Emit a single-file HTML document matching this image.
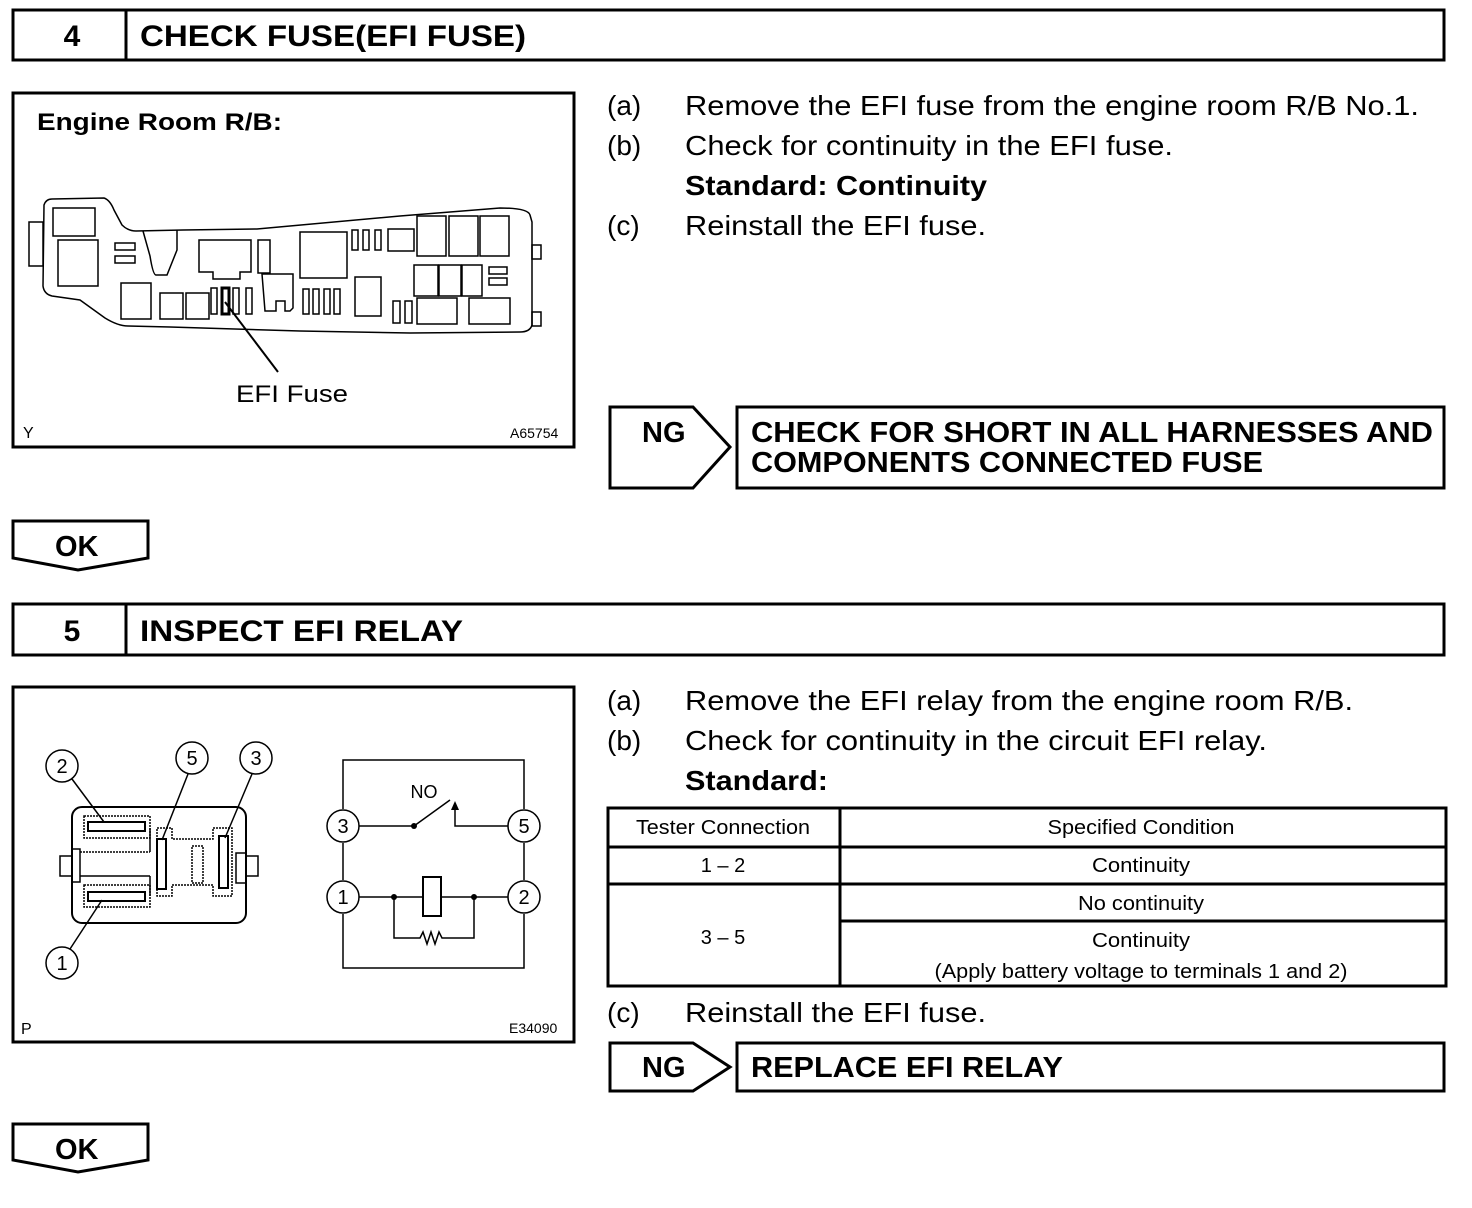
<!DOCTYPE html>
<html><head><meta charset="utf-8"><style>
html,body{margin:0;padding:0;background:#fff}
svg{display:block}
text{font-family:"Liberation Sans",Arial,sans-serif;fill:#000}
.b{font-weight:bold}
</style></head><body>
<svg width="1472" height="1208" viewBox="0 0 1472 1208" xmlns="http://www.w3.org/2000/svg">
<g fill="none" stroke="#000" stroke-width="3">
<rect x="13" y="10" width="1431" height="50"/>
<line x1="126" y1="10" x2="126" y2="60"/>
<rect x="13" y="93" width="561" height="354"/>
<path d="M610 407 H693 L730 447 L693 488 H610 Z"/>
<rect x="737" y="407" width="707" height="81"/>
<path d="M13 521 H148 V558 L78 570 L13 558 Z"/>
<rect x="13" y="604" width="1431" height="51"/>
<line x1="126" y1="604" x2="126" y2="655"/>
<rect x="13" y="687" width="561" height="355"/>
<rect x="608" y="808" width="838" height="178"/>
<line x1="840" y1="808" x2="840" y2="986"/>
<line x1="608" y1="847" x2="1446" y2="847"/>
<line x1="608" y1="884" x2="1446" y2="884"/>
<line x1="840" y1="921" x2="1446" y2="921"/>
<path d="M610 1043 H693 L730 1067 L693 1091 H610 Z"/>
<rect x="737" y="1043" width="707" height="48"/>
<path d="M13 1124 H148 V1160 L78 1172 L13 1160 Z"/>
</g>

<g fill="none" stroke="#000" stroke-width="1.5">
<path d="M44 205 Q46 199 52 199 L104 198 Q110 200 114 210 L122 225 Q128 231 136 231 L183 230 L257 229 L400 216 L500 208 Q528 208 530 215 L532 222 L532 325 Q530 332 520 332 L410 333 L300 331 L170 327 L128 326 Q118 326 105 318 L80 300 L52 296 Q44 294 43 286 Z"/>
<rect x="29" y="222" width="14" height="44"/>
<rect x="532" y="245" width="9" height="14"/>
<rect x="532" y="312" width="9" height="14"/>
<rect x="53" y="208" width="42" height="28"/>
<rect x="58" y="240" width="40" height="46"/>
<rect x="115" y="243" width="20" height="7"/>
<rect x="115" y="256" width="20" height="7"/>
<path d="M143 231 L150 256 Q153 275 156 275 L167 275 L177 250 L177 230"/>
<rect x="121" y="283" width="30" height="36"/>
<rect x="160" y="293" width="23" height="26"/>
<rect x="186" y="293" width="23" height="26"/>
<path d="M199 240 H251 V272 H240 V279 H213 V272 H199 Z"/>
<rect x="258" y="240" width="12" height="33"/>
<rect x="211" y="288" width="6" height="26"/>
<rect x="222" y="288" width="7" height="26" stroke-width="3"/>
<rect x="233" y="288" width="6" height="26"/>
<rect x="246" y="288" width="6" height="26"/>
<path d="M262 274 H293 V308 L290 311 H285 V301 H276 V311 H265 Z"/>
<rect x="300" y="232" width="47" height="46"/>
<rect x="303" y="289" width="6" height="25"/>
<rect x="313" y="289" width="6" height="25"/>
<rect x="324" y="289" width="6" height="25"/>
<rect x="334" y="289" width="6" height="25"/>
<rect x="355" y="277" width="26" height="39"/>
<rect x="352" y="230" width="6" height="20"/>
<rect x="363" y="230" width="6" height="20"/>
<rect x="375" y="230" width="6" height="20"/>
<rect x="388" y="229" width="26" height="22"/>
<rect x="417" y="216" width="29" height="40"/>
<rect x="449" y="216" width="29" height="40"/>
<rect x="480" y="216" width="29" height="40"/>
<rect x="414" y="265" width="24" height="31"/>
<rect x="439" y="265" width="22" height="31"/>
<rect x="462" y="265" width="20" height="31"/>
<rect x="489" y="267" width="18" height="7"/>
<rect x="489" y="278" width="18" height="7"/>
<rect x="393" y="301" width="7" height="22"/>
<rect x="405" y="301" width="7" height="22"/>
<rect x="417" y="298" width="40" height="26"/>
<rect x="469" y="298" width="41" height="26"/>
<line x1="225" y1="302" x2="278" y2="372" stroke-width="2"/>
</g>

<g fill="none" stroke="#000" stroke-width="1.5">
<rect x="72" y="807" width="174" height="116" rx="10" stroke-width="2"/>
<rect x="84" y="816" width="66" height="22" stroke-dasharray="2 1"/>
<rect x="88" y="822" width="57" height="9" stroke-width="2"/>
<rect x="84" y="885" width="66" height="22" stroke-dasharray="2 1"/>
<rect x="88" y="892" width="57" height="9" stroke-width="2"/>
<path d="M150 828 V852 M150 876 V896" />
<path d="M157 828 H172 V839 H213 V828 H232 V896 H213 V885 H172 V896 H157 Z" stroke-dasharray="2 1"/>
<rect x="157" y="839" width="9" height="50" stroke-width="2"/>
<rect x="219" y="836" width="9" height="52" stroke-width="2"/>
<rect x="192" y="846" width="11" height="37" stroke-dasharray="2 1"/>
<rect x="60" y="856" width="12" height="20"/>
<rect x="72" y="849" width="8" height="33"/>
<rect x="246" y="856" width="12" height="20"/>
<rect x="236" y="853" width="10" height="30"/>
<line x1="80" y1="852" x2="150" y2="852" stroke-dasharray="2 1"/>
<line x1="80" y1="876" x2="150" y2="876"/>
<circle cx="62" cy="766" r="16"/>
<circle cx="192" cy="758" r="16"/>
<circle cx="256" cy="758" r="16"/>
<circle cx="62" cy="963" r="16"/>
<line x1="72" y1="779" x2="104" y2="822"/>
<line x1="188" y1="774" x2="162" y2="840"/>
<line x1="252" y1="774" x2="225" y2="838"/>
<line x1="70" y1="949" x2="102" y2="900"/>
</g>
<g font-size="20" text-anchor="middle">
<text x="62" y="773">2</text><text x="192" y="765">5</text><text x="256" y="765">3</text><text x="62" y="970">1</text>
</g>

<g fill="none" stroke="#000" stroke-width="1.5">
<path d="M343 809 V760 H524 V809 M343 843 V880 M343 914 V968 H524 V914 M524 843 V880"/>
<circle cx="343" cy="826" r="16"/><circle cx="524" cy="826" r="16"/>
<circle cx="343" cy="897" r="16"/><circle cx="524" cy="897" r="16"/>
<path d="M359 826 H414 L450 800 M455 808 V826 H508"/>
</g>
<path d="M451 810 L455 801 L459 810 Z" fill="#000"/>
<g fill="none" stroke="#000" stroke-width="1.5">
<path d="M359 897 H423 M441 897 H508"/>
<rect x="423" y="877" width="18" height="39" stroke-width="2"/>
<path d="M394 897 V938 H420 L423 932 L427 944 L431 932 L435 944 L439 932 L442 938 H474 V897"/>
</g>
<circle cx="414" cy="826" r="3"/><circle cx="394" cy="897" r="3"/><circle cx="474" cy="897" r="3"/>
<g font-size="20" text-anchor="middle">
<text x="343" y="833">3</text><text x="524" y="833">5</text><text x="343" y="904">1</text><text x="524" y="904">2</text>
<text x="424" y="798" font-size="18">NO</text>
</g>

<text x="72" y="46" class="b" font-size="30" text-anchor="middle">4</text>
<text x="140" y="46" class="b" font-size="30" textLength="386" lengthAdjust="spacingAndGlyphs">CHECK FUSE(EFI FUSE)</text>
<text x="72" y="641" class="b" font-size="30" text-anchor="middle">5</text>
<text x="140" y="641" class="b" font-size="30" textLength="323" lengthAdjust="spacingAndGlyphs">INSPECT EFI RELAY</text>

<text x="37" y="130" class="b" font-size="24" textLength="245" lengthAdjust="spacingAndGlyphs">Engine Room R/B:</text>
<text x="236" y="402" font-size="24" textLength="112" lengthAdjust="spacingAndGlyphs">EFI Fuse</text>
<text x="23" y="438" font-size="16">Y</text>
<text x="510" y="438" font-size="14">A65754</text>
<text x="21" y="1034" font-size="16">P</text>
<text x="509" y="1033" font-size="14">E34090</text>

<g font-size="28">
<text x="607" y="115">(a)</text>
<text x="685" y="115" textLength="734" lengthAdjust="spacingAndGlyphs">Remove the EFI fuse from the engine room R/B No.1.</text>
<text x="607" y="155">(b)</text>
<text x="685" y="155" textLength="488" lengthAdjust="spacingAndGlyphs">Check for continuity in the EFI fuse.</text>
<text x="685" y="195" class="b" textLength="302" lengthAdjust="spacingAndGlyphs">Standard: Continuity</text>
<text x="607" y="235">(c)</text>
<text x="685" y="235" textLength="301" lengthAdjust="spacingAndGlyphs">Reinstall the EFI fuse.</text>

<text x="607" y="710">(a)</text>
<text x="685" y="710" textLength="668" lengthAdjust="spacingAndGlyphs">Remove the EFI relay from the engine room R/B.</text>
<text x="607" y="750">(b)</text>
<text x="685" y="750" textLength="582" lengthAdjust="spacingAndGlyphs">Check for continuity in the circuit EFI relay.</text>
<text x="685" y="790" class="b" textLength="143" lengthAdjust="spacingAndGlyphs">Standard:</text>
<text x="607" y="1022">(c)</text>
<text x="685" y="1022" textLength="301" lengthAdjust="spacingAndGlyphs">Reinstall the EFI fuse.</text>
</g>

<g font-size="20" text-anchor="middle">
<text x="723" y="834" textLength="174" lengthAdjust="spacingAndGlyphs">Tester Connection</text>
<text x="1141" y="834" textLength="187" lengthAdjust="spacingAndGlyphs">Specified Condition</text>
<text x="723" y="872">1 – 2</text>
<text x="1141" y="872" textLength="98" lengthAdjust="spacingAndGlyphs">Continuity</text>
<text x="1141" y="910" textLength="126" lengthAdjust="spacingAndGlyphs">No continuity</text>
<text x="723" y="944">3 – 5</text>
<text x="1141" y="947" textLength="98" lengthAdjust="spacingAndGlyphs">Continuity</text>
<text x="1141" y="978" textLength="413" lengthAdjust="spacingAndGlyphs">(Apply battery voltage to terminals 1 and 2)</text>
</g>

<g class="b" font-size="29">
<text x="642" y="442" class="b">NG</text>
<text x="751" y="442" class="b" textLength="682" lengthAdjust="spacingAndGlyphs">CHECK FOR SHORT IN ALL HARNESSES AND</text>
<text x="751" y="472" class="b" textLength="512" lengthAdjust="spacingAndGlyphs">COMPONENTS CONNECTED FUSE</text>
<text x="642" y="1077" class="b">NG</text>
<text x="751" y="1077" class="b" textLength="312" lengthAdjust="spacingAndGlyphs">REPLACE EFI RELAY</text>
<text x="55" y="556" class="b">OK</text>
<text x="55" y="1159" class="b">OK</text>
</g>
</svg>
</body></html>
